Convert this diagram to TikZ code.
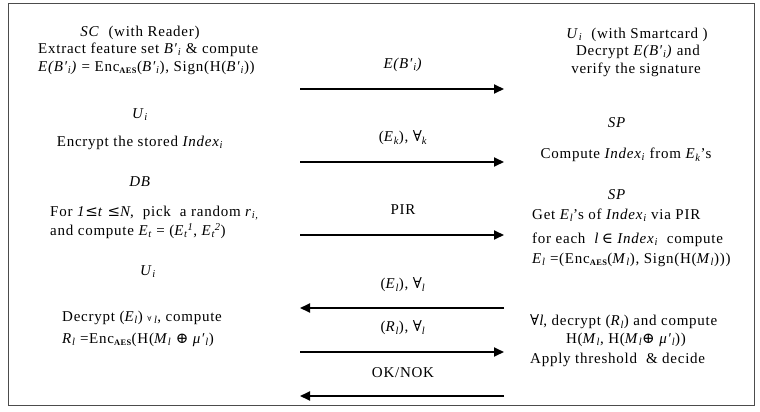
\documentclass[tikz,border=0pt]{standalone}
\usepackage{fontspec}
\setmainfont{Liberation Serif}[LetterSpace=5]
\newfontfamily\symf{DejaVu Serif}
\usetikzlibrary{arrows.meta}
\newcommand{\sbs}[1]{\textsubscript{\itshape #1}}
\newcommand{\aes}{\textsubscript{\scalebox{0.8}{\bfseries AES}}}
\newcommand{\sy}[1]{{\symf #1}}
\begin{document}
\begin{tikzpicture}[x=1pt,y=-1pt,
  txt/.style={inner sep=0pt,font=\fontsize{15}{17}\selectfont},
  msg/.style={line width=1.8pt,-{Triangle[length=10pt,width=9pt]}}]
\useasboundingbox (0,0) rectangle (760,412);
\draw[line width=0.8pt,black!70] (8,3) rectangle (754,405);
% left column
\node[txt] (sc) at (140,33) {\textit{SC} \ (with Reader)};
\node[txt,anchor=west] (sc1) at (38,50) {Extract feature set \textit{B′}\sbs{i} \& compute};
\node[txt,anchor=west] (sc2) at (38,68) {\textit{E(B′}\sbs{i}\textit{)} = Enc\aes(\textit{B′}\sbs{i}), Sign(H(\textit{B′}\sbs{i}))};
\node[txt] (u1) at (140,115) {\textit{U}\sbs{i}};
\node[txt] (u1a) at (140,143) {Encrypt the stored \textit{Index}\sbs{i}};
\node[txt] (db) at (140,182) {\textit{DB}};
\node[txt,anchor=west] (db1) at (50,213) {For \textit{1}\sy{≤}\textit{t} \sy{≤}\textit{N}, \ pick \ a random \textit{r}\sbs{i,}};
\node[txt,anchor=west] (db2) at (50,231) {and compute \textit{E}\sbs{t} = (\textit{E}\sbs{t}\textsuperscript{\itshape 1}, \textit{E}\sbs{t}\textsuperscript{\itshape 2})};
\node[txt] (u2) at (148,272) {\textit{U}\sbs{i}};
\node[txt,anchor=west] (u2a) at (62,318) {Decrypt (\textit{E}\sbs{l}) \sy{\scriptsize ∀}\,\sbs{l}, compute};
\node[txt,anchor=west] (u2b) at (62,340) {\textit{R}\sbs{l} =Enc\aes(H(\textit{M}\sbs{l} \sy{⊕} \textit{μ′}\sbs{l})};
% right column
\node[txt] (uc) at (637,35) {\textit{U}\sbs{i} \ (with Smartcard )};
\node[txt] (uc1) at (638,52) {Decrypt \textit{E(B′}\sbs{i}\textit{)} and};
\node[txt] (uc2) at (636,70) {verify the signature};
\node[txt] (sp1) at (617,123) {\textit{SP}};
\node[txt] (sp1a) at (626,155) {Compute \textit{Index}\sbs{i} from \textit{E}\sbs{k}’s};
\node[txt] (sp2) at (617,195) {\textit{SP}};
\node[txt,anchor=west] (sp2a) at (532,215) {Get \textit{E}\sbs{l}’s of \textit{Index}\sbs{i} via PIR};
\node[txt,anchor=west] (sp2b) at (532,240) {for each \ \textit{l}\,\sy{∈} \textit{Index}\sbs{i} \ compute};
\node[txt,anchor=west] (sp2c) at (532,260) {\textit{E}\sbs{l} =(Enc\aes(\textit{M}\sbs{l}), Sign(H(\textit{M}\sbs{l})))};
\node[txt,anchor=west] (sp3a) at (530,322) {\sy{∀}\textit{l}, decrypt (\textit{R}\sbs{l}) and compute};
\node[txt] (sp3b) at (626,340) {H(\textit{M}\sbs{l}, H(\textit{M}\sbs{l}\sy{⊕} \textit{μ′}\sbs{l}))};
\node[txt,anchor=west] (sp3c) at (530,360) {Apply threshold \ \& decide};
% messages
\coordinate (a1l) at (300,89);  \coordinate (a1r) at (504,89);
\coordinate (a2l) at (300,162); \coordinate (a2r) at (504,162);
\coordinate (a3l) at (300,235); \coordinate (a3r) at (504,235);
\coordinate (a4l) at (300,308); \coordinate (a4r) at (504,308);
\coordinate (a5l) at (300,352); \coordinate (a5r) at (504,352);
\coordinate (a6l) at (300,396); \coordinate (a6r) at (504,396);
\draw[msg] (a1l) -- (a1r);
\draw[msg] (a2l) -- (a2r);
\draw[msg] (a3l) -- (a3r);
\draw[msg] (a4r) -- (a4l);
\draw[msg] (a5l) -- (a5r);
\draw[msg] (a6r) -- (a6l);
\node[txt] (m1) at (403,65) {\textit{E(B′}\sbs{i}\textit{)}};
\node[txt] (m2) at (403,138) {(\textit{E}\sbs{k}), \sy{∀}\sbs{k}};
\node[txt] (m3) at (403,210) {PIR};
\node[txt] (m4) at (403,285) {(\textit{E}\sbs{l}), \sy{∀}\sbs{l}};
\node[txt] (m5) at (403,328) {(\textit{R}\sbs{l}), \sy{∀}\sbs{l}};
\node[txt] (m6) at (403,373) {OK/NOK};
\end{tikzpicture}
\end{document}
